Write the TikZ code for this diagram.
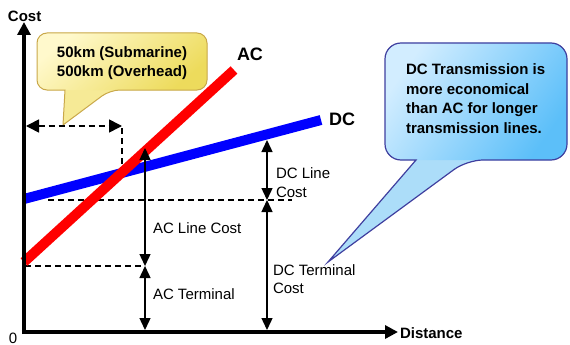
\documentclass[tikz,border=0pt]{standalone}
\usepackage{fontspec}
\setmainfont{Liberation Sans}
\usetikzlibrary{arrows.meta}

\definecolor{acred}{HTML}{FF0000}
\definecolor{dcblue}{HTML}{0000FF}
\definecolor{yellowlight}{HTML}{FFF9CC}
\definecolor{yellowdeep}{HTML}{EDDB5C}
\definecolor{yellowtail}{HTML}{F6EA96}
\definecolor{yellowedge}{HTML}{C9A84A}
\definecolor{bluelight}{HTML}{D2EDFF}
\definecolor{bluedeep}{HTML}{5CBFF9}
\definecolor{bluetail}{HTML}{ACDDF9}
\definecolor{blueedge}{HTML}{3F3F9F}

\begin{document}
\begin{tikzpicture}[x=1pt,y=-1pt,
  every node/.style={inner sep=0pt, outer sep=0pt, font=\fontsize{15}{18}\selectfont},
  boldlbl/.style={font=\fontsize{15}{18}\selectfont\bfseries},
  curvelbl/.style={font=\fontsize{18}{20}\selectfont\bfseries},
  axisline/.style={line width=4.5pt, -{Triangle[length=13pt,width=13pt]}},
  dimarrow/.style={line width=1.4pt, {Triangle[length=12pt,width=11pt]}-{Triangle[length=12pt,width=11pt]}},
  guide/.style={line width=1.6pt, dash pattern=on 6pt off 4pt},
  costline/.style={line width=10pt, line cap=butt},
]
\useasboundingbox (0,0) rectangle (570,345);

% ---- callout: distance note
\def\yellowoutline{(65,90) [rounded corners=10pt] -- (37,90) -- (37,33) -- (207,33) -- (207,90) -- (110,90)
  [sharp corners] -- (63,125) -- cycle}
\fill[yellowtail] \yellowoutline;
\shade[rounded corners=10pt, top color=yellowlight, bottom color=yellowdeep, shading angle=40]
  (37,33) rectangle (207,90);
\draw[yellowedge, line width=1pt] \yellowoutline;
\node[align=center, anchor=north, font=\fontsize{15}{18.5}\selectfont\bfseries] (breakeven) at (122,47)
  {50km (Submarine)\\500km (Overhead)};

% ---- callout: conclusion
\def\blueoutline{(416,160) [rounded corners=16pt] -- (385,160) -- (385,43) -- (567,43) -- (567,160) -- (467,160)
  [sharp corners] -- (328,262) -- cycle}
\fill[bluetail] \blueoutline;
\shade[rounded corners=16pt, top color=bluelight, bottom color=bluedeep, shading angle=55]
  (385,43) rectangle (567,160);
\draw[blueedge, line width=1.2pt] \blueoutline;
\node[align=left, anchor=north west, font=\fontsize{15}{19.5}\selectfont\bfseries] (summary) at (406,64)
  {DC Transmission is\\more economical\\than AC for longer\\transmission lines.};

% ---- key points
\coordinate (origin) at (24,332);
\coordinate (ytip) at (24,22);
\coordinate (xtip) at (398,332);
\coordinate (ystart) at (24,334.2);
\coordinate (xstart) at (21.8,332);

\coordinate (acA) at (24,262);
\coordinate (acB) at (234,70);
\coordinate (dcA) at (24,199);
\coordinate (dcB) at (321,120);

\coordinate (acTop) at (145,148);
\coordinate (acMid) at (145,266);
\coordinate (acBot) at (145,330);
\coordinate (dcTop) at (267,140);
\coordinate (dcMid) at (267,200);
\coordinate (dcBot) at (267,330);

\coordinate (acGuideL) at (25,266);
\coordinate (dcGuideL) at (48,200);
\coordinate (dcGuideR) at (292,200);
\coordinate (spanL) at (26,126);
\coordinate (spanR) at (122,126);
\coordinate (spanTop) at (122,128);
\coordinate (spanBot) at (122,174);

% ---- dashed guides
\draw[guide] (acGuideL) -- (acMid);
\draw[guide] (dcGuideL) -- (dcGuideR);
\draw[guide, {Triangle[length=13pt,width=13pt]}-{Triangle[length=13pt,width=13pt]}] (spanL) -- (spanR);
\draw[guide] (spanTop) -- (spanBot);

% ---- cost curves
\draw[costline, dcblue] (dcA) -- (dcB);
\draw[costline, acred] (acA) -- (acB);

% ---- axes
\draw[axisline] (ystart) -- (ytip);
\draw[axisline] (xstart) -- (xtip);

% ---- cost components
\draw[dimarrow] (acTop) -- (acMid);
\draw[dimarrow] (acMid) -- (acBot);
\draw[dimarrow] (dcTop) -- (dcMid);
\draw[dimarrow] (dcMid) -- (dcBot);

% ---- labels
\node[boldlbl, anchor=base west] (costlbl) at (8,22) {Cost};
\node[boldlbl, anchor=base west] (distlbl) at (400,338) {Distance};
\node[anchor=base west] (zerolbl) at (9,343) {0};
\node[curvelbl, anchor=base west] (aclbl) at (237,61) {AC};
\node[curvelbl, anchor=base west] (dclbl) at (329,125) {DC};

\node[anchor=base west] (aclinelbl) at (153,233) {AC Line Cost};
\node[anchor=base west] (actermlbl) at (153,299.5) {AC Terminal};
\node[anchor=north west, align=left, font=\fontsize{15}{18.5}\selectfont] (dclinelbl) at (276,168) {DC Line\\Cost};
\node[anchor=north west, align=left, font=\fontsize{15}{17.8}\selectfont] (dctermlbl) at (273,265) {DC Terminal\\Cost};
\end{tikzpicture}
\end{document}
